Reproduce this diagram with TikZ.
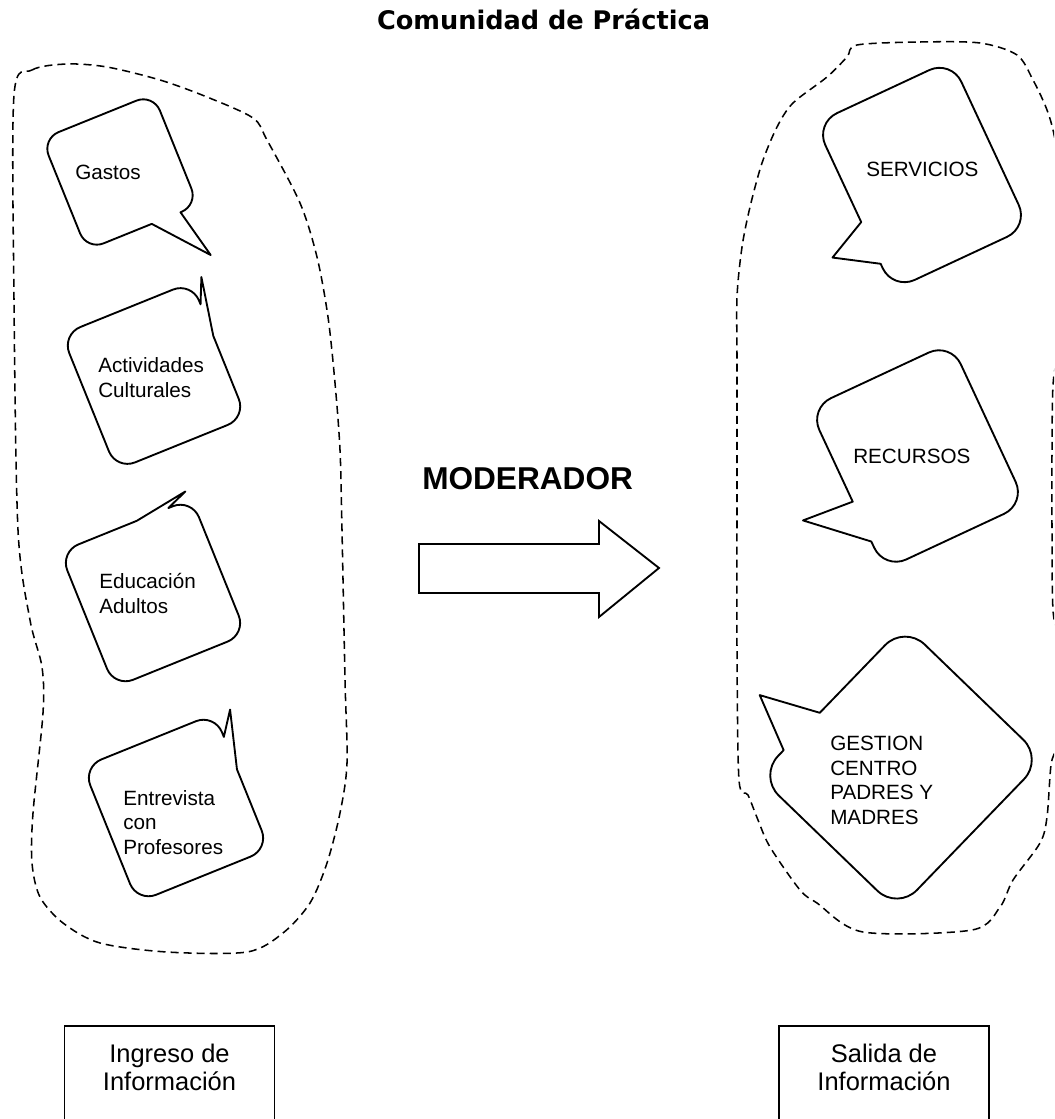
\documentclass[tikz,border=0pt]{standalone}
\usepackage{fontspec}
\setmainfont{Liberation Sans}
\newfontfamily\titlefont{DejaVu Sans}
\usetikzlibrary{positioning}

\begin{document}
\begin{tikzpicture}[x=0.75pt,y=-0.75pt]

\tikzset{bubble/.style = {draw, line width=1.4pt, line join=round}}
\tikzset{outline/.style = {draw, line width=1.15pt, dash pattern=on 6pt off 3.8pt}}
\tikzset{txt/.style = {anchor=north west, inner sep=0pt, align=left, font=\fontsize{15.5}{18.4}\selectfont}}
\tikzset{caja/.style = {draw, line width=1.4pt, anchor=north, minimum width=157.5pt, inner ysep=13.5pt, text depth=40pt, align=center, font=\fontsize{19.1}{21}\selectfont}}

\useasboundingbox (0,0) rectangle (1054,1119);
\clip (0,0) rectangle (1054,1119);

%title
\node[anchor=base, inner sep=0pt, font=\titlefont\bfseries\fontsize{19.2}{23}\selectfont] (titulo) at (543.5,30) {Comunidad de Práctica};

%groups
\draw[outline] plot[smooth cycle] coordinates {(14,95) (32,70) (67,64) (107,67) (160,80) (207,97) (253,118) (267,140) (300,203) (317,257) (328,317) (335,383) (340,450) (342,530) (345,680) (347,763) (340,813) (327,863) (310,903) (283,933) (247,952) (167,952) (100,943) (63,923) (40,897) (32,863) (33,813) (43,713) (42,667) (30,620) (18,530) (14,300)};
\draw[outline] plot[smooth cycle] coordinates {(857,45) (920,42) (980,43) (1017,55) (1033,80) (1047,110) (1055,140) (1062,200) (1065,290) (1058,350) (1053,385) (1052,450) (1052,530) (1053,610) (1060,650) (1064,700) (1057,745) (1051,765) (1047,817) (1040,843) (1013,880) (1000,907) (972,930) (863,932) (817,903) (800,890) (770,847) (758,820) (748,795) (739,780) (737,650) (737,500) (737,363) (737,297) (742,247) (750,207) (762,163) (777,127) (793,103) (827,77) (847,57)};

%bubbles left
\begin{scope}[shift={(120,172)}, rotate=22]
\draw[bubble] (0,-60) [rounded corners=13.5pt] -- (60,-60) -- (60,60) [sharp corners] -- (41,60) -- (53,111) -- (10,60) [rounded corners=13.5pt] -- (-60,60) -- (-60,-60) -- cycle;
\end{scope}
\begin{scope}[shift={(154,376)}, rotate=22]
\draw[bubble] (0,-73) [rounded corners=15pt] -- (70,-73) [sharp corners] -- (70,-49) -- (81,-74) -- (70,-15) [rounded corners=15pt] -- (70,73) -- (-70,73) -- (-70,-73) -- cycle;
\end{scope}
\begin{scope}[shift={(153,593)}, rotate=22]
\draw[bubble] (-71,0) [rounded corners=15pt] -- (-71,-73) [sharp corners] -- (12,-73) -- (68,-82) -- (46,-73) [rounded corners=15pt] -- (71,-73) -- (71,73) -- (-71,73) -- cycle;
\end{scope}
\begin{scope}[shift={(176,808)}, rotate=22]
\draw[bubble] (0,-73) [rounded corners=15pt] -- (71,-73) [sharp corners] -- (71,-48) -- (87,-71) -- (71,-13) [rounded corners=15pt] -- (71,73) -- (-71,73) -- (-71,-73) -- cycle;
\end{scope}

%bubbles right
\begin{scope}[shift={(922,175)}, rotate=25]
\draw[bubble] (0,-92) [rounded corners=18pt] -- (75,-92) -- (75,92) -- (-75,92) [sharp corners] -- (-75,63) -- (-116,37) -- (-75,17) [rounded corners=18pt] -- (-75,-92) -- cycle;
\end{scope}
\begin{scope}[shift={(917.5,456)}, rotate=25]
\draw[bubble] (0,-89) [rounded corners=18pt] -- (78,-89) -- (78,89) -- (-78,89) [sharp corners] -- (-78,58) -- (-131,10) -- (-78,14) [rounded corners=18pt] -- (-78,-89) -- cycle;
\end{scope}
\begin{scope}[shift={(901,767.6)}, rotate=-44]
\draw[bubble] (0,-105) [rounded corners=21pt] -- (96.5,-105) -- (96.5,105) -- (-96.5,105) [sharp corners] -- (-96.5,69) -- (-152,46) -- (-96.5,17) [rounded corners=21pt] -- (-96.5,-105) -- cycle;
\end{scope}

%texts
\node[txt] (gastos) at (75,165) {Gastos};
\node[txt] (actividades) at (98,357.5) {Actividades\\Culturales};
\node[txt] (educacion) at (99,573.5) {Educación\\Adultos};
\node[txt] (entrevista) at (123,790) {Entrevista\\con\\Profesores};
\node[txt] (servicios) at (866,162) {SERVICIOS};
\node[txt] (recursos) at (853,448.5) {RECURSOS};
\node[txt] (gestion) at (830,736) {GESTION\\CENTRO\\PADRES Y\\MADRES};

%moderador
\node[anchor=base west, inner sep=0pt, font=\bfseries\fontsize{23.7}{28}\selectfont] (moderador) at (422,489) {MODERADOR};
\draw[line width=1.4pt] (419,544) -- (599,544) -- (599,521) -- (659,568) -- (599,617) -- (599,593) -- (419,593) -- cycle;

%boxes
\node[caja] (ingreso) at (169.5,1025) {Ingreso de\\Información};
\node[caja] (salida) at (884,1025) {Salida de\\Información};

\end{tikzpicture}
\end{document}
